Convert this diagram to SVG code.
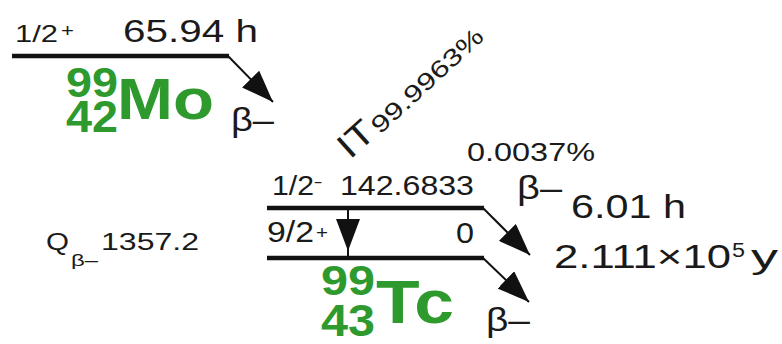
<svg xmlns="http://www.w3.org/2000/svg" width="782" height="344" viewBox="0 0 782 344">
<style>
  text { font-family: "Liberation Sans", Arial, sans-serif; fill: #1a1a1a; }
  .nuc { fill: #2e9a2e; font-weight: bold; }
  .level { stroke: #111; stroke-width: 4.5; fill: none; }
  .conn { stroke: #111; stroke-width: 2; fill: none; }
</style>
<defs>
  <marker id="ah" markerUnits="userSpaceOnUse" markerWidth="32" markerHeight="24" viewBox="0 0 32 24" refX="32" refY="12" orient="auto">
    <path d="M0,0 L32,12 L0,24 z" fill="#111"/>
  </marker>
</defs>
<rect width="782" height="344" fill="#fff"/>

<g id="mo99">
  <line class="level" x1="12" y1="56" x2="229" y2="56"/>
  <text x="15" y="42" font-size="24" textLength="43" lengthAdjust="spacingAndGlyphs">1/2</text>
  <text x="61" y="37" font-size="18" textLength="13" lengthAdjust="spacingAndGlyphs">+</text>
  <text x="123" y="42" font-size="31" textLength="135" lengthAdjust="spacingAndGlyphs">65.94 h</text>
  <text class="nuc" x="66" y="97" font-size="42" textLength="52" lengthAdjust="spacingAndGlyphs">99</text>
  <text class="nuc" x="66" y="132" font-size="44" textLength="52" lengthAdjust="spacingAndGlyphs">42</text>
  <text class="nuc" x="117" y="119" font-size="57" textLength="97" lengthAdjust="spacingAndGlyphs">Mo</text>
  <text x="231" y="131" font-size="34" textLength="43" lengthAdjust="spacingAndGlyphs">β–</text>
</g>

<g id="tc99m">
  <line class="level" x1="267" y1="208" x2="484" y2="208"/>
  <text x="272" y="195" font-size="27" textLength="42" lengthAdjust="spacingAndGlyphs">1/2</text>
  <text x="314" y="188" font-size="16" textLength="8" lengthAdjust="spacingAndGlyphs">−</text>
  <text x="340" y="195" font-size="27" textLength="134" lengthAdjust="spacingAndGlyphs">142.6833</text>
  <text x="517" y="199" font-size="34" textLength="45" lengthAdjust="spacingAndGlyphs">β–</text>
  <text x="571" y="218" font-size="33" textLength="115" lengthAdjust="spacingAndGlyphs">6.01 h</text>
</g>

<g id="tc99">
  <line class="level" x1="267" y1="258" x2="484" y2="258"/>
  <text x="267" y="242" font-size="29" textLength="47" lengthAdjust="spacingAndGlyphs">9/2</text>
  <text x="316" y="239" font-size="18" textLength="12" lengthAdjust="spacingAndGlyphs">+</text>
  <text x="456" y="243" font-size="30" textLength="18" lengthAdjust="spacingAndGlyphs">0</text>
  <text class="nuc" x="321" y="295" font-size="42" textLength="54" lengthAdjust="spacingAndGlyphs">99</text>
  <text class="nuc" x="321" y="336" font-size="44" textLength="54" lengthAdjust="spacingAndGlyphs">43</text>
  <text class="nuc" x="376" y="323" font-size="62" textLength="78" lengthAdjust="spacingAndGlyphs">Tc</text>
  <text x="486" y="331" font-size="34" textLength="44" lengthAdjust="spacingAndGlyphs">β–</text>
  <text x="554" y="268" font-size="33" textLength="177" lengthAdjust="spacingAndGlyphs">2.111×10</text>
  <text x="732" y="257" font-size="20" textLength="13" lengthAdjust="spacingAndGlyphs">5</text>
  <text x="751" y="268" font-size="33" textLength="27" lengthAdjust="spacingAndGlyphs">y</text>
</g>

<g id="qvalue">
  <text x="46" y="250" font-size="24" textLength="23" lengthAdjust="spacingAndGlyphs">Q</text>
  <text x="71" y="266" font-size="16" textLength="27" lengthAdjust="spacingAndGlyphs">β–</text>
  <text x="101" y="250" font-size="24" textLength="98" lengthAdjust="spacingAndGlyphs">1357.2</text>
</g>

<g id="connectors">
  <path class="conn" d="M228,56 L273,102" marker-end="url(#ah)"/>
  <path class="conn" d="M483,208 L530,255" marker-end="url(#ah)"/>
  <path class="conn" d="M483,258 L529,302" marker-end="url(#ah)"/>
  <path class="conn" d="M348,208 L348,251" marker-end="url(#ah)"/>
  <line class="conn" x1="348" y1="245" x2="348" y2="258"/>
  <text transform="translate(350,160) rotate(-42)" font-size="35" textLength="37" lengthAdjust="spacingAndGlyphs">IT</text>
  <text transform="translate(380,135) rotate(-42.5)" font-size="24" textLength="143" lengthAdjust="spacingAndGlyphs">99.9963%</text>
  <text x="467" y="161" font-size="26" textLength="128" lengthAdjust="spacingAndGlyphs">0.0037%</text>
</g>
</svg>
